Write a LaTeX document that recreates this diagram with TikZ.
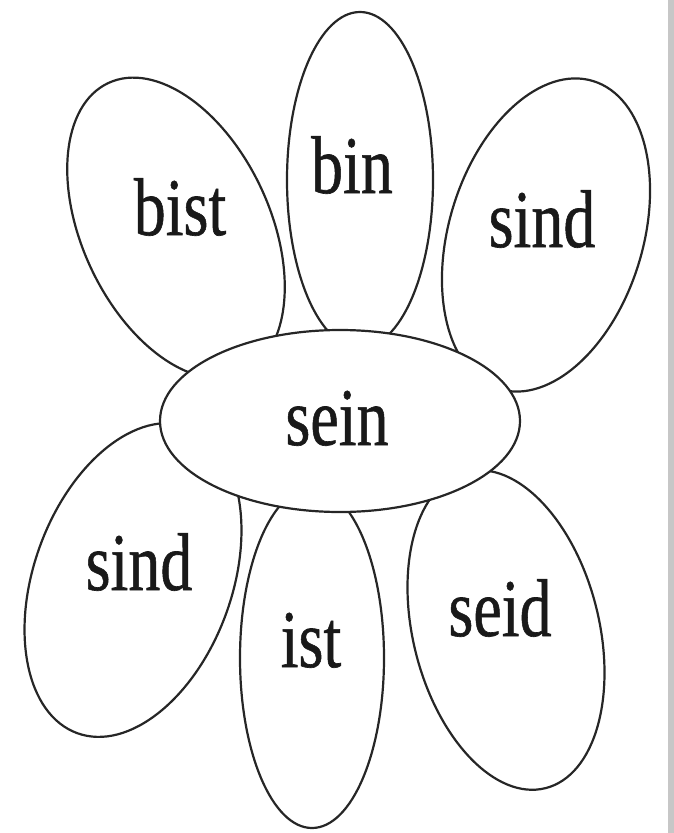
\documentclass[tikz,border=0pt]{standalone}
\usepackage{fontspec}
\usepackage{graphicx}
\setmainfont{Liberation Serif}
\newfontfamily\wordfont[FakeBold=0.8]{Liberation Serif}
\tikzset{
  petal/.style={draw=black!85, line width=2.2pt},
  heart/.style={draw=black!85, line width=2.2pt, fill=white},
  word/.style={anchor=base, inner sep=0pt, text=black!90, font=\wordfont\fontsize{64}{70}\selectfont}
}
\newcommand{\tallword}[1]{\scalebox{1}[1.28]{#1}}
\begin{document}
\begin{tikzpicture}[x=1pt,y=-1pt]
\useasboundingbox (0,0) rectangle (674,833);
\fill[black!22] (668,0) rectangle (674,833);
% petals
\draw[petal, rotate around={25:(176,228)}] (176,228) ellipse [x radius=94pt, y radius=160pt];
\draw[petal] (360,180) ellipse [x radius=73pt, y radius=168pt];
\draw[petal, rotate around={-17:(546,235)}] (546,235) ellipse [x radius=97pt, y radius=161pt];
\draw[petal, rotate around={-20:(133,580)}] (133,580) ellipse [x radius=99pt, y radius=163pt];
\draw[petal] (312,658) ellipse [x radius=72pt, y radius=170pt];
\draw[petal, rotate around={14:(506,630)}] (506,630) ellipse [x radius=93pt, y radius=163pt];
% centre
\draw[heart] (340,421) ellipse [x radius=180pt, y radius=91pt];
% words
\node[word] (sein) at (337,445) {\tallword{sein}};
\node[word] (bin) at (352,193) {\tallword{bin}};
\node[word] (bist) at (180,235) {\tallword{bist}};
\node[word] (sindtop) at (542,247) {\tallword{sind}};
\node[word] (sindleft) at (139,590) {\tallword{sind}};
\node[word] (ist) at (311,667) {\tallword{ist}};
\node[word] (seid) at (500,636) {\tallword{seid}};
\end{tikzpicture}
\end{document}
